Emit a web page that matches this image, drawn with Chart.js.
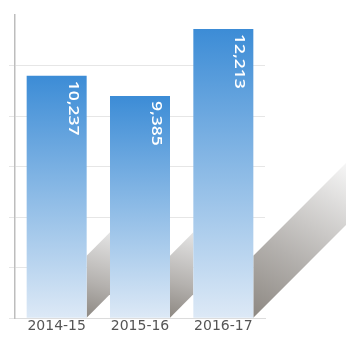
<!DOCTYPE html>
<html>
<head>
<meta charset="utf-8">
<script src="https://cdn.jsdelivr.net/npm/chart.js@4/dist/chart.umd.min.js"></script>
<style>
  html, body { margin: 0; padding: 0; background: #fff; }
  #wrap { width: 346px; height: 342px; position: relative; }
</style>
</head>
<body>
<div id="wrap"><canvas id="chart"></canvas></div>
<script>
const years  = ['2014-15', '2015-16', '2016-17'];
const values = [10237, 9385, 12213];

// fake 3D drop shadow behind each bar
const barShadows = {
  id: 'barShadows',
  beforeDatasetsDraw(chart) {
    const ctx = chart.ctx;
    const bars = chart.getDatasetMeta(0).data;
    const depth = 62;
    bars.forEach((b, i) => {
      const right = b.x + b.width / 2;
      const base = b.base;
      const next = bars[i + 1];
      const w = next ? (next.x - next.width / 2) - right : chart.width - right;
      const g = ctx.createLinearGradient(right, base, right + w, base - depth - w);
      g.addColorStop(0, '#8d8882');
      g.addColorStop(0.4, '#b4b1ae');
      g.addColorStop(1, next ? '#e4e4e4' : '#f6f6f6');
      ctx.save();
      ctx.beginPath();
      ctx.moveTo(right, base - depth);
      ctx.lineTo(right + w, base - depth - w);
      ctx.lineTo(right + w, base - w);
      ctx.lineTo(right, base);
      ctx.closePath();
      ctx.fillStyle = g;
      ctx.fill();
      ctx.restore();
    });
  }
};

// rotated value labels inside the top of each bar
const valueLabels = {
  id: 'valueLabels',
  afterDatasetsDraw(chart) {
    const ctx = chart.ctx;
    chart.getDatasetMeta(0).data.forEach((b, i) => {
      const right = b.x + b.width / 2;
      ctx.save();
      ctx.translate(right - 14, b.y + 5);
      ctx.rotate(Math.PI / 2);
      ctx.scale(1.25, 1);
      ctx.font = '600 14px "Open Sans"';
      ctx.fillStyle = '#ffffff';
      ctx.textAlign = 'left';
      ctx.textBaseline = 'middle';
      ctx.fillText(values[i].toLocaleString('en-US'), 0, 0);
      ctx.restore();
    });
  }
};

const ctx = document.getElementById('chart').getContext('2d');
new Chart(ctx, {
  type: 'bar',
  data: {
    labels: years,
    datasets: [{
      data: values,
      backgroundColor: c => {
        const chart = c.chart;
        if (!chart.chartArea) return '#4a93d8';
        const ys = chart.scales.y;
        const top = ys.getPixelForValue(c.raw);
        const bottom = ys.getPixelForValue(0);
        const g = chart.ctx.createLinearGradient(0, top, 0, bottom);
        g.addColorStop(0, '#3c8cd6');
        g.addColorStop(0.5, '#8dbbe6');
        g.addColorStop(1, '#dde9f6');
        return g;
      },
      borderWidth: 0,
      barPercentage: 0.72,
      categoryPercentage: 1,
    }]
  },
  options: {
    responsive: true,
    maintainAspectRatio: false,
    animation: false,
    layout: { padding: { left: 9, right: 81, top: 15, bottom: 7 } },
    plugins: {
      legend: { display: false },
      tooltip: { enabled: false }
    },
    scales: {
      x: {
        grid: { display: false, drawTicks: false, tickLength: 0 },
        border: { display: true, color: '#dcdcdc', dash: [2, 2] },
        ticks: { color: '#555', padding: 0, font: { family: 'DejaVu Sans', size: 14 } }
      },
      y: {
        min: 0,
        max: 12800,
        grid: {
          color: c => (c.tick && c.tick.value > 12000) ? 'rgba(0,0,0,0)' : 'rgba(200,200,200,0.45)',
          drawTicks: true,
          tickLength: 6
        },
        border: { color: '#bdbdbd', width: 1.5 },
        ticks: { display: false, stepSize: 2000 }
      }
    }
  },
  plugins: [barShadows, valueLabels]
});
</script>
</body>
</html>
